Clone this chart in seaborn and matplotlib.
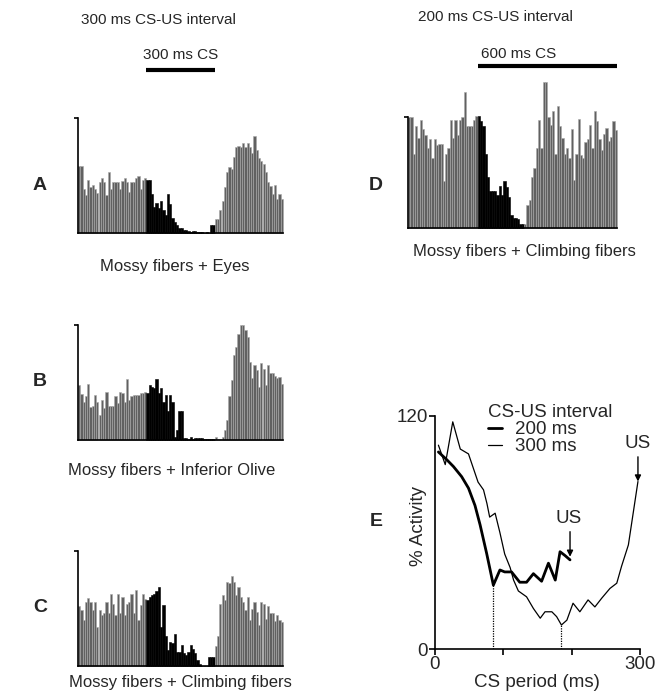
import numpy as np
import pandas as pd
import matplotlib
matplotlib.use("Agg")
import matplotlib.pyplot as plt
import seaborn as sns
from matplotlib.transforms import blended_transform_factory

sns.set_theme(style="white")
plt.rcParams["font.family"] = ["Liberation Sans", "DejaVu Sans"]

# ---------------- data (heights in % of the histogram axis) ----------------
A_pre = [58, 58, 38, 33, 46, 40, 42, 38, 35, 44, 48, 44, 33, 53, 38, 44, 44, 44, 38, 45,
         48, 44, 36, 44, 44, 48, 50, 38, 46, 48]
A_cs = [46, 46, 34, 23, 26, 22, 28, 20, 16, 34, 25, 13, 10, 7, 4, 4, 3, 3, 2, 1,
        2, 2, 1, 0.5, 0.5, 0, 0.5, 0, 7, 7]
A_post = [12.5, 12.5, 20, 28, 40, 53, 57, 56, 66, 75, 76, 75, 78, 75, 78, 75, 70, 84, 72, 65,
          63, 60, 53, 44, 41, 34, 42, 30, 34, 30]

B_pre = [48, 40, 33, 38, 49, 29, 30, 39, 33, 22, 35, 28, 42, 30, 30, 30, 38, 32, 42, 41,
         33, 53, 35, 38, 39, 39, 39, 41, 41, 42]
B_cs = [41, 48, 46, 45, 53, 41, 45, 33, 39, 25, 39, 33, 3, 9, 25, 25, 1.5, 1.5, 0.5, 3,
        1, 2, 2, 1.5, 2, 0.5, 0.5, 0.5, 0.5, 0.5]
B_post = [3, 1, 1, 3, 9, 17, 38, 52, 74, 81, 92, 100, 100, 96, 90, 68, 54, 65, 61, 46,
          67, 62, 48, 65, 58, 58, 56, 54, 55, 49]

C_pre = [52, 49, 40, 56, 59, 56, 49, 56, 34, 49, 44, 46, 56, 46, 63, 54, 44, 63, 46, 60,
         44, 54, 56, 63, 46, 66, 40, 53, 63, 58]
C_cs = [57, 60, 62, 63, 65, 69, 34, 53, 26, 14, 21, 20, 28, 12, 12, 18, 11, 10, 12, 18,
        15, 11, 5, 2, 0, 0, 0, 8, 8, 8]
C_post = [17, 26, 54, 62, 57, 73, 72, 78, 73, 62, 69, 60, 56, 49, 60, 40, 50, 56, 47, 36,
          56, 54, 41, 52, 46, 46, 39, 44, 40, 38]

D_pre = [100, 100, 67, 92, 81, 97, 89, 84, 72, 80, 63, 80, 75, 76, 76, 42, 67, 72, 97, 81,
         97, 84, 97, 100, 122, 92, 92, 92, 97, 101]
D_cs = [101, 96, 92, 67, 46, 33, 33, 33, 30, 38, 30, 42, 37, 28, 12, 9, 9, 8, 4, 4]
D_post = [4, 21, 25, 46, 54, 72, 97, 72, 131, 131, 100, 93, 105, 67, 110, 92, 81, 67, 72, 63,
          89, 43, 67, 98, 66, 63, 77, 80, 93, 72, 105, 96, 80, 70, 85, 90, 78, 82, 96, 88]

# panel E: % activity over the CS period
t300 = [5, 15, 26, 37, 49, 63, 71, 76, 80, 88, 95, 102, 110, 115, 122, 134, 144, 154, 161, 171,
        178, 185, 193, 202, 212, 224, 234, 244, 256, 266, 273, 283, 290, 297]
v300 = [105, 95, 117, 103, 100.5, 86, 82, 75, 68, 70, 60, 49, 42, 35.6, 30, 27, 21, 16, 19.3, 19.3,
        16.8, 12.5, 15, 23.7, 19.3, 25.4, 21.8, 26.3, 31.3, 34, 42.7, 53.7, 70, 86.3]
t200 = [5, 17, 27, 39, 49, 58.5, 66, 75.6, 85.4, 95, 102, 112, 124, 134, 144, 156, 166, 176,
        183, 190, 197.6]
v200 = [101.5, 97.6, 94, 88.8, 82.9, 74, 64, 49.3, 33.0, 40.8, 39.8, 39.8, 34.5, 34.5, 38.9,
        35.0, 44.3, 35.6, 50.2, 48.3, 46]

e_yticks = [0, 120]
e_xticks = [0, 100, 200, 300]
e_xticklabels = ["0", "", "", "300"]

# ---------------- figure ----------------
W, H = 660, 694
fig = plt.figure(figsize=(W / 100, H / 100), dpi=100)


def rect(x0, y_top, x1, y_bot):
    return [x0 / W, 1 - y_bot / H, (x1 - x0) / W, (y_bot - y_top) / H]


GRAY = "#616161"
EDGE = "#a8a8a8"


def histogram(ax, pre, cs, post, ytop):
    vals = list(pre) + list(cs) + list(post)
    phase = ["pre"] * len(pre) + ["cs"] * len(cs) + ["post"] * len(post)
    df = pd.DataFrame({"bin": np.arange(len(vals)), "v": vals, "phase": phase})
    for ph, fc, ec in [("pre", GRAY, EDGE), ("cs", "black", "black"), ("post", GRAY, EDGE)]:
        sub = df[df["phase"] == ph]
        sns.barplot(data=sub, x="bin", y="v", native_scale=True, width=1.0, color=fc,
                    edgecolor=ec, linewidth=0.4, saturation=1, errorbar=None, ax=ax)
    for p in ax.patches:
        p.set_clip_on(False)
    ax.set_xlim(-0.5, len(vals) - 0.5)
    ax.set_ylim(0, ytop)
    ax.set_xlabel("")
    ax.set_ylabel("")
    ax.set_xticks([])
    ax.set_yticks([100])
    ax.set_yticklabels([])
    ax.tick_params(axis="y", left=True, length=3, width=1.2, direction="out", color="black")
    for s in ["top", "right"]:
        ax.spines[s].set_visible(False)
    ax.spines["left"].set_bounds(0, 100)
    for s in ["left", "bottom"]:
        ax.spines[s].set_color("black")
        ax.spines[s].set_linewidth(1.2)
    ax.set_facecolor("none")
    return len(pre), len(pre) + len(cs), len(vals)


axA = fig.add_axes(rect(78, 118, 283, 233))
pA = histogram(axA, A_pre, A_cs, A_post, 100)
axB = fig.add_axes(rect(78, 325, 283, 440))
histogram(axB, B_pre, B_cs, B_post, 100)
axC = fig.add_axes(rect(78, 551, 283, 666))
histogram(axC, C_pre, C_cs, C_post, 100)
axD = fig.add_axes(rect(408, 78, 617, 228))
pD = histogram(axD, D_pre, D_cs, D_post, 135)

# CS bars above the histograms
trA = blended_transform_factory(axA.transData, fig.transFigure)
axA.plot([pA[0] - 0.5, 2 * pA[0] - 0.5], [1 - 70 / H] * 2, color="black", lw=3,
         transform=trA, clip_on=False, solid_capstyle="butt")
trD = blended_transform_factory(axD.transData, fig.transFigure)
axD.plot([pD[0] - 0.5, pD[2] - 0.5], [1 - 66 / H] * 2, color="black", lw=3,
         transform=trD, clip_on=False, solid_capstyle="butt")

fs_head = 11
fig.text(158 / W, 1 - 20 / H, "300 ms CS-US interval", ha="center", va="center", fontsize=fs_head)
fig.text(181 / W, 1 - 55 / H, "300 ms CS", ha="center", va="center", fontsize=fs_head)
fig.text(495 / W, 1 - 17 / H, "200 ms CS-US interval", ha="center", va="center", fontsize=fs_head)
fig.text(519 / W, 1 - 54 / H, "600 ms CS", ha="center", va="center", fontsize=fs_head)

fs_lab = 12
fig.text(175 / W, 1 - 267 / H, "Mossy fibers + Eyes", ha="center", va="center", fontsize=fs_lab)
fig.text(172 / W, 1 - 470 / H, "Mossy fibers + Inferior Olive", ha="center", va="center", fontsize=fs_lab)
fig.text(180 / W, 1 - 683 / H, "Mossy fibers + Climbing fibers", ha="center", va="center", fontsize=fs_lab)
fig.text(524 / W, 1 - 252 / H, "Mossy fibers + Climbing fibers", ha="center", va="center", fontsize=fs_lab)

for lab, x, y in [("A", 40, 185), ("B", 40, 382), ("C", 40, 607), ("D", 376, 185), ("E", 376, 522)]:
    fig.text(x / W, 1 - y / H, lab, ha="center", va="center", fontsize=14, fontweight="bold")

# ---------------- panel E ----------------
axE = fig.add_axes(rect(435, 416, 640, 649.3))
fsE = 13.5
sns.lineplot(x=t200, y=v200, color="black", linewidth=2.0, ax=axE, label="200 ms",
             estimator=None, sort=False)
sns.lineplot(x=t300, y=v300, color="black", linewidth=0.9, ax=axE, label="300 ms",
             estimator=None, sort=False)

i2 = int(np.argmin(v200))
i3 = int(np.argmin(v300))
axE.vlines([t200[i2], t300[i3]], 0, [v200[i2], v300[i3]], colors="black",
           linestyles=(0, (1, 1)), linewidth=0.9)

axE.set_xlim(0, 300)
axE.set_ylim(0, 120)
axE.set_xticks(e_xticks)
axE.set_xticklabels(e_xticklabels)
axE.set_yticks(e_yticks)
axE.set_yticklabels([str(v) for v in e_yticks])
axE.tick_params(axis="both", length=4, width=1.2, direction="out", labelsize=fsE, pad=1,
                bottom=True, left=True, color="black")
for s in ["top", "right"]:
    axE.spines[s].set_visible(False)
for s in ["left", "bottom"]:
    axE.spines[s].set_color("black")
    axE.spines[s].set_linewidth(1.2)
axE.set_facecolor("none")
axE.set_ylabel("% Activity", fontsize=fsE)
axE.yaxis.set_label_coords(-0.04, 0.528)
axE.set_xlabel("CS period (ms)", fontsize=fsE)
axE.xaxis.set_label_coords(0.496, -0.105)

# US markers
axE.text(t300[-1], 106, "US", ha="center", va="center", fontsize=fsE)
axE.annotate("", xy=(t300[-1], v300[-1]), xytext=(t300[-1], 99),
             arrowprops=dict(arrowstyle="-|>", color="black", lw=1, shrinkA=0, shrinkB=0,
                             mutation_scale=9), annotation_clip=False)
axE.text(t200[-1] - 1.5, 67.5, "US", ha="center", va="center", fontsize=fsE)
axE.annotate("", xy=(t200[-1], 47.6), xytext=(t200[-1], 60.5),
             arrowprops=dict(arrowstyle="-|>", color="black", lw=1, shrinkA=0, shrinkB=0,
                             mutation_scale=9))

leg = axE.legend(title="CS-US interval", loc="upper left", bbox_to_anchor=(488 / W, 1 - 404 / H),
                 bbox_transform=fig.transFigure, frameon=False, fontsize=fsE, title_fontsize=fsE,
                 handlelength=0.75, handletextpad=0.7, labelspacing=0.0, borderpad=0,
                 borderaxespad=0)
leg._legend_box.align = "left"

fig.savefig("out.png", dpi=100)
